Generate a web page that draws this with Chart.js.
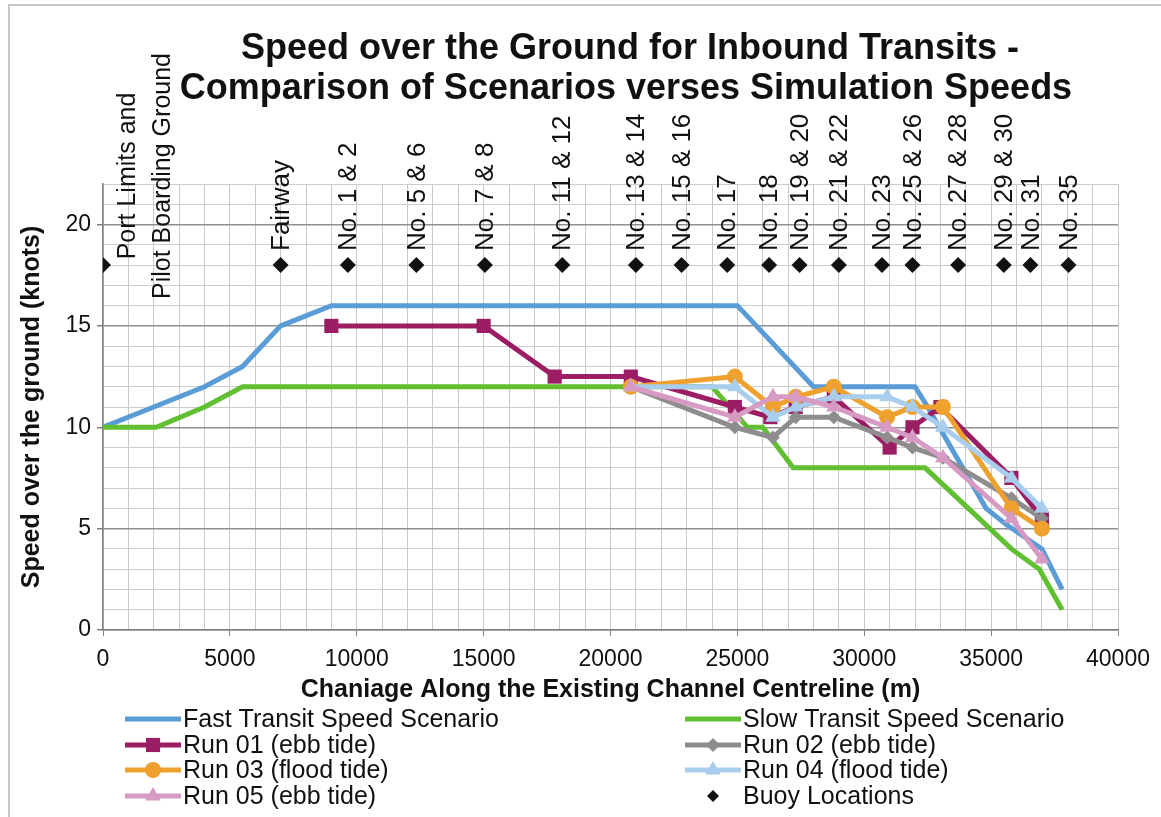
<!DOCTYPE html>
<html>
<head>
<meta charset="utf-8">
<title>Speed over the Ground for Inbound Transits</title>
<script src="https://cdn.jsdelivr.net/npm/chart.js"></script>
<style>
  html, body { margin: 0; background: #fff; }
  #wrap { width: 1161px; height: 817px; position: relative; }
</style>
</head>
<body>
<div id="wrap"><canvas id="sogChart"></canvas></div>
<script>
// chainage (m) and speed (knots)
var FAST_X = [0, 2000, 4000, 5500, 7000, 9000, 25000, 28000, 32000, 32500, 34800, 35600, 37000, 37800];
var FAST_Y = [10, 11, 12, 13, 15, 16, 16, 12, 12, 11, 6, 5.2, 4, 2];
var SLOW_X = [0, 2100, 4000, 5500, 24000, 25400, 26000, 27200, 32400, 35800, 36900, 37800];
var SLOW_Y = [10, 10, 11, 12, 12, 10, 10, 8, 8, 4, 3, 1];
var RUN01_X = [9000, 15000, 17800, 20800, 24900, 26300, 27300, 28800, 31000, 31900, 33000, 35800, 37000];
var RUN01_Y = [15, 15, 12.5, 12.5, 11, 10.5, 11, 11.5, 9, 10, 11, 7.5, 5.5];
var RUN_X = [20800, 24900, 26400, 27300, 28800, 30900, 31900, 33100, 35800, 37000];
var RUN02_Y = [12, 10, 9.5, 10.5, 10.5, 9.5, 9, 8.5, 6.5, 5.5];
var RUN03_Y = [12, 12.5, 11, 11.5, 12, 10.5, 11, 11, 6, 5];
var RUN04_Y = [12, 12, 10.5, 11, 11.5, 11.5, 11, 10, 7.5, 6];
var RUN05_Y = [12, 10.5, 11.5, 11.5, 11, 10, 9.5, 8.5, 5.5, 3.5];
var BUOY_X = [0, 7000, 9650, 12350, 15050, 18100, 21000, 22800, 24600, 26250, 27450, 29000, 30700, 31900, 33700, 35500, 36550, 38050];
var BUOY_Y = [18, 18, 18, 18, 18, 18, 18, 18, 18, 18, 18, 18, 18, 18, 18, 18, 18, 18];
var BUOY_LABELS = ["Port Limits and|Pilot Boarding Ground", "Fairway", "No. 1 & 2", "No. 5 & 6", "No. 7 & 8",
  "No. 11 & 12", "No. 13 & 14", "No. 15 & 16", "No. 17", "No. 18", "No. 19 & 20", "No. 21 & 22",
  "No. 23", "No. 25 & 26", "No. 27 & 28", "No. 29 & 30", "No. 31", "No. 35"];
var X_TICK_LABELS = [0, 5000, 10000, 15000, 20000, 25000, 30000, 35000, 40000];
var Y_TICK_LABELS = [0, 5, 10, 15, 20];
var TITLE_LINES = ["Speed over the Ground for Inbound Transits -", "Comparison of Scenarios verses Simulation Speeds"];

var FONT = "'Liberation Sans', Arial, sans-serif";

function pts(xs, ys) {
  return xs.map(function (x, i) { return { x: x, y: ys[i] }; });
}

function series(label, xs, ys, color, style, radius, order) {
  return {
    label: label,
    data: pts(xs, ys),
    showLine: true,
    borderColor: color,
    backgroundColor: color,
    borderWidth: 5,
    pointStyle: style,
    pointRadius: style ? radius : 0,
    pointBorderWidth: 0,
    order: order
  };
}

var datasets = [
  series("Fast Transit Speed Scenario", FAST_X, FAST_Y, "#5a9cd6", false, 0, 8),
  series("Slow Transit Speed Scenario", SLOW_X, SLOW_Y, "#61bf32", false, 0, 7),
  series("Run 01 (ebb tide)", RUN01_X, RUN01_Y, "#9b1d63", "rect", 10, 6),
  series("Run 02 (ebb tide)", RUN_X, RUN02_Y, "#8e8c8d", "rectRot", 7, 5),
  series("Run 03 (flood tide)", RUN_X, RUN03_Y, "#eea12e", "circle", 8, 4),
  series("Run 04 (flood tide)", RUN_X, RUN04_Y, "#a9cdec", "triangle", 9, 3),
  series("Run 05 (ebb tide)", RUN_X, RUN05_Y, "#d69ac3", "triangle", 9, 2),
  {
    label: "Buoy Locations",
    data: pts(BUOY_X, BUOY_Y),
    showLine: false,
    pointStyle: "rectRot",
    pointRadius: 8,
    borderColor: "#111",
    backgroundColor: "#111",
    pointBorderWidth: 0,
    order: 1
  }
];

function marker(ctx, style, r, x, y) {
  ctx.beginPath();
  if (style === "rect") {
    var s = r * Math.SQRT1_2;
    ctx.rect(x - s, y - s, 2 * s, 2 * s);
  } else if (style === "rectRot") {
    ctx.moveTo(x, y - r); ctx.lineTo(x + r, y); ctx.lineTo(x, y + r); ctx.lineTo(x - r, y); ctx.closePath();
  } else if (style === "circle") {
    ctx.arc(x, y, r, 0, Math.PI * 2);
  } else if (style === "triangle") {
    ctx.moveTo(x, y - r); ctx.lineTo(x + r * 0.866, y + r * 0.5); ctx.lineTo(x - r * 0.866, y + r * 0.5); ctx.closePath();
  }
  ctx.fill();
}

var decor = {
  id: "decor",
  afterDraw: function (chart) {
    var ctx = chart.ctx;
    var xs = chart.scales.x;
    ctx.save();

    // outer frame
    ctx.strokeStyle = "#b5b5b5";
    ctx.lineWidth = 1.5;
    ctx.beginPath();
    ctx.moveTo(9, 817); ctx.lineTo(9, 5); ctx.lineTo(1161, 5);
    ctx.stroke();

    // title
    ctx.fillStyle = "#111";
    ctx.font = "bold 36px " + FONT;
    ctx.textAlign = "center";
    ctx.textBaseline = "middle";
    ctx.fillText(TITLE_LINES[0], 630, 49);
    ctx.fillText(TITLE_LINES[1], 626, 89);

    // buoy names
    ctx.font = "26px " + FONT;
    BUOY_LABELS.forEach(function (txt, i) {
      var px = xs.getPixelForValue(BUOY_X[i]);
      var parts = txt.split("|");
      ctx.save();
      if (parts.length > 1) {
        ctx.font = "25px " + FONT;
        ctx.textAlign = "center";
        ctx.translate(px + 25, 176);
        ctx.rotate(-Math.PI / 2);
        ctx.fillText(parts[0], 0, 0);
        ctx.fillText(parts[1], 0, 35);
      } else {
        ctx.textAlign = "left";
        ctx.translate(px + 1, 251);
        ctx.rotate(-Math.PI / 2);
        ctx.fillText(txt, 0, 0);
      }
      ctx.restore();
    });

    // legend, two columns
    ctx.font = "25px " + FONT;
    ctx.textAlign = "left";
    var cols = [125, 685];
    var rows = [719, 745, 770, 796];
    datasets.forEach(function (ds, i) {
      var cx = cols[i % 2], cy = rows[Math.floor(i / 2)];
      ctx.fillStyle = ds.backgroundColor;
      ctx.strokeStyle = ds.borderColor;
      if (ds.showLine) {
        ctx.lineWidth = 5;
        ctx.beginPath();
        ctx.moveTo(cx, cy); ctx.lineTo(cx + 56, cy);
        ctx.stroke();
      }
      if (ds.pointStyle && ds.pointRadius) {
        marker(ctx, ds.pointStyle, ds.showLine ? ds.pointRadius : 6, cx + 28, cy);
      }
      ctx.fillStyle = "#111";
      ctx.fillText(ds.label, cx + 58, cy + 1);
    });
    ctx.restore();
  }
};

new Chart(document.getElementById("sogChart"), {
  type: "scatter",
  data: { datasets: datasets },
  options: {
    responsive: true,
    maintainAspectRatio: false,
    animation: false,
    layout: { padding: { top: 184, left: 0, right: 43, bottom: 107 } },
    plugins: { legend: { display: false }, tooltip: { enabled: false } },
    scales: {
      x: {
        type: "linear",
        min: 0,
        max: 40000,
        afterFit: function (s) { s.height = 80; },
        border: { color: "#7f7f7f", width: 1.5 },
        grid: {
          color: "#c9c9c9",
          lineWidth: 1,
          tickLength: 6,
          tickColor: function (c) { return c.tick && c.tick.value % 5000 === 0 ? "#7f7f7f" : "rgba(0,0,0,0)"; }
        },
        ticks: {
          stepSize: 1000,
          autoSkip: false,
          maxRotation: 0,
          padding: 10,
          color: "#111",
          font: { family: FONT, size: 23 },
          callback: function (v) { return X_TICK_LABELS.indexOf(v) >= 0 ? String(v) : ""; }
        },
        title: {
          display: true,
          text: "Chaniage Along the Existing Channel Centreline (m)",
          color: "#111",
          font: { family: FONT, size: 25, weight: "bold" },
          padding: { top: 0, bottom: 5 }
        }
      },
      y: {
        min: 0,
        max: 22,
        afterFit: function (s) { s.width = 103; },
        border: { color: "#7f7f7f", width: 1.5 },
        grid: {
          color: function (c) { return c.tick && c.tick.value % 5 === 0 ? "#8f8f8f" : "#cdcdcd"; },
          lineWidth: function (c) { return c.tick && c.tick.value % 5 === 0 ? 1.5 : 1; },
          tickLength: 6,
          tickColor: function (c) { return c.tick && c.tick.value % 5 === 0 ? "#7f7f7f" : "rgba(0,0,0,0)"; }
        },
        ticks: {
          stepSize: 1,
          autoSkip: false,
          padding: 6,
          color: "#111",
          font: { family: FONT, size: 23 },
          callback: function (v) { return Y_TICK_LABELS.indexOf(v) >= 0 ? String(v) : ""; }
        },
        title: {
          display: true,
          text: "Speed over the ground (knots)",
          color: "#111",
          font: { family: FONT, size: 25, weight: "bold" },
          padding: { top: 17, bottom: 0 }
        }
      }
    }
  },
  plugins: [decor]
});
</script>
</body>
</html>
